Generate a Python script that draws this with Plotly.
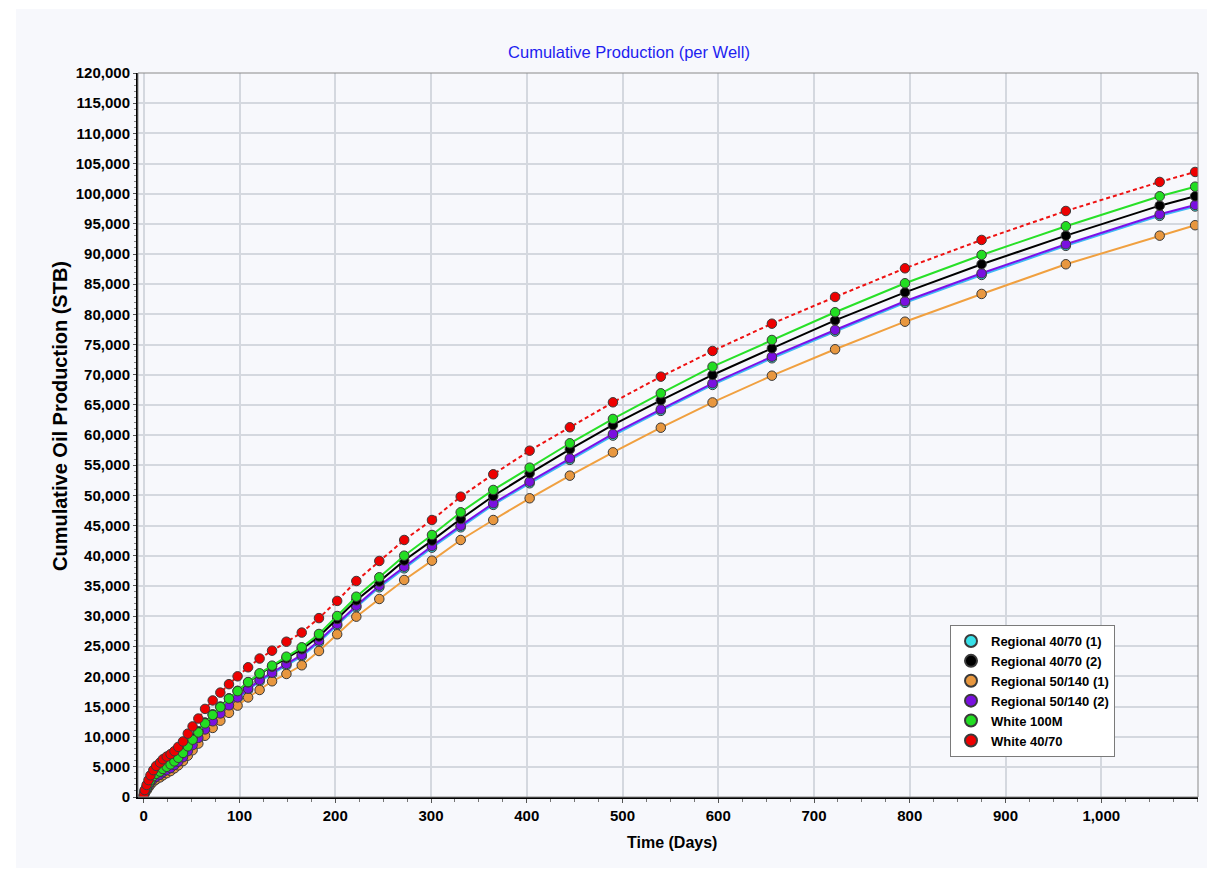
import plotly.graph_objects as go

# ---------------- data ----------------
days = [0, 1, 3, 5, 7, 10, 13, 17, 20, 24, 28, 32, 36, 41, 46, 51, 57, 64, 72, 80,
        89, 98, 109, 121, 134, 149, 165, 183, 202, 222, 246, 272, 301, 331, 365, 403,
        445, 490, 540, 594, 656, 722, 795, 875, 963, 1061, 1098]

regional_4070_1 = [100, 650, 1150, 1700, 2250, 2800, 3150, 3500, 3900, 4250, 4600, 5100,
                   5650, 6400, 7400, 8400, 9600, 11000, 12350, 13650, 15000, 16300, 17750,
                   19150, 20350, 21800, 23300, 25650, 28420, 31450, 34750, 37900, 41330,
                   44700, 48420, 52000, 55880, 59900, 64000, 68300, 72720, 77150, 81900,
                   86530, 91350, 96320, 97880]

regional_4070_2 = [200, 1000, 1700, 2350, 2950, 3600, 4000, 4400, 4850, 5250, 5650, 6150,
                   6800, 7600, 8650, 9750, 10900, 12350, 13700, 15000, 16350, 17600, 19000,
                   20400, 21600, 23000, 24500, 26600, 29500, 32600, 35700, 39200, 42500,
                   46080, 49890, 53650, 57630, 61660, 65750, 69950, 74370, 79000, 83650,
                   88300, 93040, 98010, 99570]

regional_50140_1 = [100, 600, 1100, 1600, 2050, 2550, 2900, 3250, 3600, 3950, 4300, 4750,
                    5250, 5950, 6850, 7750, 8850, 10150, 11450, 12650, 13950, 15150, 16500,
                    17740, 19180, 20390, 21830, 24200, 26970, 29890, 32820, 35970, 39170,
                    42600, 45910, 49510, 53260, 57130, 61210, 65400, 69830, 74210, 78780,
                    83380, 88300, 93040, 94770]

regional_50140_2 = [150, 800, 1350, 1900, 2450, 3000, 3350, 3700, 4100, 4450, 4800, 5300,
                    5850, 6600, 7600, 8600, 9800, 11200, 12550, 13850, 15200, 16500, 17950,
                    19390, 20600, 22050, 23540, 25910, 28680, 31710, 35020, 38170, 41600,
                    44970, 48680, 52260, 56140, 60170, 64260, 68570, 72980, 77410, 82160,
                    86800, 91610, 96580, 98130]

white_100m = [200, 950, 1600, 2200, 2800, 3450, 3850, 4200, 4650, 5000, 5400, 5900,
              6500, 7300, 8400, 9500, 10700, 12200, 13600, 14900, 16300, 17550, 19050,
              20500, 21770, 23260, 24810, 27020, 30000, 33200, 36420, 40000, 43430,
              47190, 50890, 54590, 58630, 62660, 66910, 71330, 75750, 80340, 85150,
              89840, 94600, 99570, 101160]

white_4070 = [300, 1150, 2000, 2800, 3600, 4450, 5150, 5700, 6250, 6700, 7100, 7600,
              8300, 9200, 10500, 11700, 13000, 14600, 16000, 17300, 18700, 20000, 21500,
              22950, 24250, 25740, 27250, 29650, 32500, 35800, 39120, 42600, 45910,
              49780, 53490, 57400, 61280, 65420, 69670, 73930, 78450, 82880, 87630,
              92330, 97130, 101940, 103600]

y_ticks = list(range(0, 120001, 5000))
x_ticks = list(range(0, 1001, 100))
x_tick_labels = ["0", "100", "200", "300", "400", "500", "600", "700", "800", "900", "1,000"]

# ---------------- styling ----------------
series = [
    # name, values, line colour, marker colour, dash
    ("Regional 40/70 (1)", regional_4070_1, "#3FB8F5", "#38E0E8", "solid"),
    ("Regional 50/140 (1)", regional_50140_1, "#F0A040", "#E8973F", "solid"),
    ("Regional 50/140 (2)", regional_50140_2, "#7A10E8", "#7A10E0", "solid"),
    ("Regional 40/70 (2)", regional_4070_2, "#000000", "#000000", "solid"),
    ("White 100M", white_100m, "#28E028", "#22DD22", "solid"),
    ("White 40/70", white_4070, "#EE1111", "#EE0000", "4px,3px"),
]
legend_order = ["Regional 40/70 (1)", "Regional 40/70 (2)", "Regional 50/140 (1)",
                "Regional 50/140 (2)", "White 100M", "White 40/70"]

FONT = "Liberation Sans, Arial, sans-serif"
BG = "#F7F8FC"

fig = go.Figure()
for name, vals, lc, mc, dash in series:
    fig.add_trace(go.Scatter(
        x=days, y=vals, mode="lines+markers", name=name, showlegend=False,
        line=dict(color=lc, width=2, dash=dash),
        marker=dict(color=mc, size=9.5, line=dict(color="#3a3a3a", width=1)),
    ))

lookup = {s[0]: s for s in series}
for name in legend_order:
    _, _, lc, mc, _ = lookup[name]
    fig.add_trace(go.Scatter(
        x=[None], y=[None], mode="markers", name=name, showlegend=True,
        marker=dict(color=mc, size=8, line=dict(color="#3a3a3a", width=0.5)),
    ))

L, R, T, B = 138, 13, 73, 87
W, H = 1211, 884
pw, ph = W - L - R, H - T - B

fig.update_layout(
    width=W, height=H,
    margin=dict(l=L, r=R, t=T, b=B, pad=0),
    paper_bgcolor="white",
    plot_bgcolor=BG,
    font=dict(family=FONT, size=15, color="#000000"),
    title=dict(text="Cumulative Production (per Well)", xref="container", yref="container",
               x=629 / W, y=1 - 52 / H, xanchor="center", yanchor="middle",
               font=dict(family=FONT, size=16.5, color="#1E1EF0")),
    legend=dict(x=(950 - L) / pw, y=(797 - 625) / ph, xanchor="left", yanchor="top",
                bgcolor="#FFFFFF", bordercolor="#7A7A7A", borderwidth=1,
                font=dict(family=FONT, size=13, color="#000000", weight="bold"),
                itemsizing="constant", tracegroupgap=0),
    shapes=[
        dict(type="rect", xref="paper", yref="paper",
             x0=(16 - L) / pw, x1=(1207 - L) / pw, y0=(797 - 868) / ph, y1=(797 - 9) / ph,
             fillcolor=BG, line=dict(width=0), layer="below"),
        dict(type="rect", xref="paper", yref="paper", x0=0, x1=1, y0=0, y1=1,
             line=dict(color="#8A8A8A", width=1), fillcolor="rgba(0,0,0,0)", layer="above"),
    ],
    annotations=[
        dict(text="Cumulative Oil Production (STB)", xref="paper", yref="paper",
             x=(60 - L) / pw, y=(797 - 416) / ph, textangle=-90, showarrow=False,
             xanchor="center", yanchor="middle",
             font=dict(family=FONT, size=20, color="#000000", weight="bold")),
        dict(text="Time (Days)", xref="paper", yref="paper",
             x=(672 - L) / pw, y=(797 - 842) / ph, showarrow=False,
             xanchor="center", yanchor="middle",
             font=dict(family=FONT, size=16, color="#000000", weight="bold")),
    ],
)

fig.update_xaxes(
    range=[-6, 1101], tickvals=x_ticks, ticktext=x_tick_labels,
    tickfont=dict(family=FONT, size=15, color="#000000", weight="bold"),
    showgrid=True, gridcolor="#D4D8DF", gridwidth=1.5,
    showline=True, linecolor="#000000", linewidth=2,
    ticks="outside", ticklen=4, tickcolor="#555555",
    minor=dict(dtick=25, tick0=0, ticks="outside", ticklen=3, tickcolor="#777777", showgrid=False),
    zeroline=False,
)
fig.update_yaxes(
    range=[0, 120000], tickvals=y_ticks, tickformat=",d",
    tickfont=dict(family=FONT, size=15, color="#000000", weight="bold"),
    showgrid=True, gridcolor="#D4D8DF", gridwidth=1.5,
    showline=True, linecolor="#000000", linewidth=2,
    ticks="outside", ticklen=3, tickcolor="#555555",
    minor=dict(dtick=1000, tick0=0, ticks="outside", ticklen=2, tickcolor="#888888", showgrid=False),
    zeroline=False,
)

fig.write_html("out.html", config={"displayModeBar": False},
               post_script="document.body.style.margin='0';document.body.style.overflow='hidden';")
